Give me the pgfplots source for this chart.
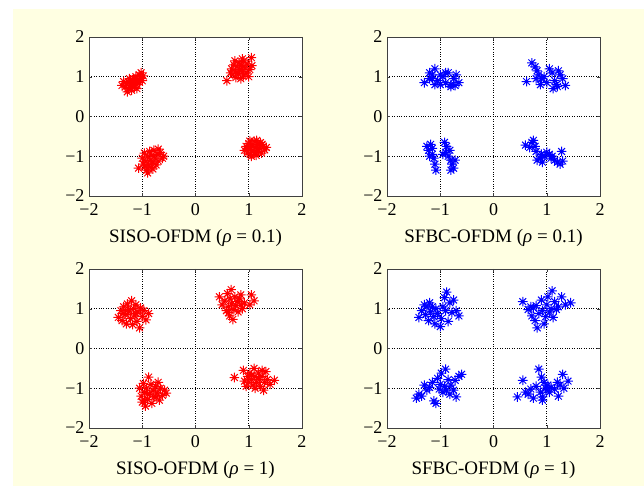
\documentclass[border=0pt]{standalone}
\usepackage{fontspec}
\setmainfont{Liberation Serif}
\usepackage{pgfplots}
\pgfplotsset{compat=1.18}
\usepackage{pgfplotstable}
\definecolor{cream}{RGB}{255,255,226}
\pgfdeclareplotmark{mstar}{%
  \pgfpathmoveto{\pgfqpoint{-\pgfplotmarksize}{0pt}}\pgfpathlineto{\pgfqpoint{\pgfplotmarksize}{0pt}}%
  \pgfpathmoveto{\pgfqpoint{0pt}{-\pgfplotmarksize}}\pgfpathlineto{\pgfqpoint{0pt}{\pgfplotmarksize}}%
  \pgfpathmoveto{\pgfqpoint{-0.707\pgfplotmarksize}{-0.707\pgfplotmarksize}}\pgfpathlineto{\pgfqpoint{0.707\pgfplotmarksize}{0.707\pgfplotmarksize}}%
  \pgfpathmoveto{\pgfqpoint{-0.707\pgfplotmarksize}{0.707\pgfplotmarksize}}\pgfpathlineto{\pgfqpoint{0.707\pgfplotmarksize}{-0.707\pgfplotmarksize}}%
  \pgfusepathqstroke}

\pgfplotstableread{
x y
-1.38 0.78
-1.32 0.74
-1.30 0.82
-1.27 0.70
-1.25 0.86
-1.22 0.78
-1.22 0.92
-1.20 0.66
-1.18 0.84
-1.16 0.95
-1.15 0.74
-1.13 0.88
-1.12 1.00
-1.10 0.80
-1.08 0.93
-1.06 1.05
-1.05 0.86
-1.03 0.97
-1.02 1.10
-1.00 0.90
-1.28 0.62
-1.24 0.95
-1.10 0.70
-0.98 1.02
-1.35 0.88
0.59 0.90
0.68 1.20
0.70 1.05
0.72 1.30
0.75 1.12
0.76 0.98
0.78 1.25
0.80 1.08
0.82 1.35
0.83 1.18
0.85 0.95
0.86 1.28
0.88 1.12
0.90 1.02
0.91 1.40
0.93 1.22
0.95 1.10
0.97 1.32
1.00 1.00
1.02 1.18
1.05 1.48
0.74 1.40
0.88 1.45
1.06 1.28
0.66 1.10
-1.07 -1.30
-1.00 -1.05
-0.98 -1.20
-0.96 -0.92
-0.93 -1.12
-0.92 -1.35
-0.90 -1.00
-0.88 -1.22
-0.86 -0.88
-0.85 -1.10
-0.83 -1.28
-0.82 -0.98
-0.80 -1.15
-0.78 -0.85
-0.76 -1.05
-0.74 -1.22
-0.72 -0.95
-0.70 -1.12
-0.66 -0.90
-0.62 -1.05
-0.90 -1.42
-0.80 -1.32
-0.70 -0.82
-0.95 -1.25
-0.60 -1.00
0.92 -0.85
0.95 -0.75
0.97 -0.92
1.00 -0.68
1.02 -0.82
1.04 -0.95
1.06 -0.72
1.08 -0.86
1.10 -0.62
1.12 -0.78
1.14 -0.98
1.16 -0.70
1.18 -0.88
1.20 -0.80
1.22 -0.66
1.24 -0.92
1.27 -0.76
1.30 -0.84
1.33 -0.78
1.05 -1.00
1.15 -0.60
0.98 -0.80
1.12 -0.90
1.25 -0.70
1.02 -0.62
}\sisoA

\pgfplotstableread{
x y
-1.30 0.85
-1.20 1.10
-1.15 0.95
-1.10 1.20
-1.05 0.90
-1.00 1.05
-1.10 0.80
-1.20 0.95
-0.95 1.00
-0.90 0.85
-0.85 1.10
-0.80 0.80
-0.75 0.95
-0.70 1.05
-0.65 0.85
-0.80 0.75
-0.90 1.10
-1.15 1.05
-1.00 0.80
-0.72 0.78
0.62 0.88
0.72 1.35
0.78 1.25
0.82 1.15
0.85 1.05
0.90 0.95
0.88 0.80
0.95 1.00
1.00 0.85
1.05 1.20
1.10 1.10
1.15 0.90
1.20 0.75
1.25 1.05
1.18 0.80
1.30 0.95
1.22 1.15
0.80 0.95
1.35 0.78
1.12 0.70
-1.25 -0.75
-1.22 -0.85
-1.18 -0.70
-1.15 -0.95
-1.12 -1.05
-1.20 -1.00
-1.10 -1.20
-1.08 -1.35
-1.15 -0.80
-0.92 -0.65
-0.88 -0.75
-0.90 -0.90
-0.85 -1.00
-0.80 -1.10
-0.78 -1.20
-0.75 -1.30
-0.82 -0.85
-0.72 -1.10
-0.95 -0.95
-0.80 -1.35
0.60 -0.72
0.68 -0.78
0.72 -0.65
0.75 -0.60
0.78 -0.75
0.80 -0.88
0.82 -1.10
0.88 -1.05
0.90 -0.95
0.95 -1.00
1.00 -0.90
1.05 -0.95
1.08 -1.05
1.15 -1.10
1.20 -1.15
1.25 -1.20
1.30 -1.12
1.28 -0.88
1.10 -1.00
0.92 -1.15
}\sfbcA

\pgfplotstableread{
x y
-1.45 0.78
-1.40 0.95
-1.38 0.70
-1.35 1.05
-1.32 0.85
-1.30 0.62
-1.28 1.12
-1.25 0.92
-1.22 0.75
-1.20 1.20
-1.18 0.60
-1.16 1.00
-1.14 0.82
-1.12 1.10
-1.10 0.68
-1.08 0.92
-1.05 0.52
-1.03 1.02
-1.00 0.80
-0.97 0.95
-0.93 0.72
-0.88 0.88
-1.26 0.98
-1.12 0.88
-1.36 0.88
0.45 1.30
0.50 1.10
0.55 1.20
0.58 0.95
0.60 1.38
0.62 1.05
0.64 0.82
0.65 1.25
0.67 1.48
0.68 1.12
0.70 0.73
0.72 0.98
0.74 1.30
0.76 1.08
0.78 1.18
0.80 0.92
0.83 1.25
0.86 1.10
0.88 1.00
0.92 1.15
1.02 1.10
1.05 1.35
1.10 1.20
0.62 0.90
0.85 1.35
-1.05 -1.00
-1.02 -1.20
-1.00 -1.35
-0.98 -0.88
-0.96 -1.10
-0.94 -1.45
-0.92 -1.00
-0.90 -1.28
-0.88 -0.72
-0.86 -1.15
-0.84 -0.90
-0.82 -1.38
-0.80 -1.05
-0.78 -1.22
-0.75 -0.95
-0.72 -1.12
-0.70 -0.85
-0.68 -1.30
-0.66 -1.00
-0.62 -1.18
-0.58 -1.05
-0.55 -1.12
-0.96 -1.30
-0.74 -1.22
-0.90 -1.15
0.73 -0.73
0.90 -0.55
0.92 -0.82
0.95 -0.95
0.98 -0.70
1.00 -0.85
1.02 -0.62
1.05 -0.78
1.08 -0.92
1.10 -0.50
1.12 -0.70
1.15 -0.85
1.18 -0.62
1.20 -0.78
1.22 -0.95
1.25 -0.70
1.28 -1.05
1.30 -0.85
1.32 -0.58
1.35 -0.78
1.40 -0.90
1.48 -0.80
1.12 -1.00
1.25 -0.55
1.05 -0.68
}\sisoB

\pgfplotstableread{
x y
-1.40 0.78
-1.35 0.95
-1.30 1.10
-1.28 0.85
-1.25 1.05
-1.22 0.70
-1.20 1.15
-1.18 0.92
-1.15 1.05
-1.12 0.80
-1.10 0.62
-1.08 1.00
-1.05 0.88
-1.00 0.55
-0.98 0.75
-0.95 1.05
-0.92 1.28
-0.90 0.95
-0.88 1.42
-0.85 0.68
-0.82 1.15
-0.78 0.90
-0.75 1.22
-0.70 0.95
-0.65 0.82
0.55 1.18
0.65 0.98
0.70 1.05
0.72 0.82
0.75 1.02
0.78 0.70
0.80 1.08
0.82 0.52
0.85 0.88
0.90 1.22
0.92 0.95
0.95 0.62
0.98 0.80
1.00 1.10
1.02 1.30
1.05 0.92
1.08 1.00
1.10 1.45
1.12 0.78
1.15 1.18
1.18 0.98
1.22 1.05
1.28 1.30
1.35 1.10
1.45 1.15
-1.45 -1.25
-1.40 -1.15
-1.35 -1.20
-1.30 -0.92
-1.25 -1.05
-1.20 -0.98
-1.15 -0.85
-1.12 -1.32
-1.08 -1.38
-1.05 -0.75
-1.02 -1.02
-1.00 -0.90
-0.98 -0.62
-0.95 -1.10
-0.92 -0.95
-0.90 -0.52
-0.88 -1.05
-0.85 -0.78
-0.82 -1.15
-0.80 -0.92
-0.75 -1.05
-0.72 -0.80
-0.70 -1.22
-0.65 -0.70
-0.60 -0.65
0.45 -1.22
0.55 -0.80
0.60 -1.10
0.65 -1.15
0.70 -1.02
0.75 -1.25
0.80 -0.95
0.85 -0.52
0.88 -1.10
0.90 -0.72
0.92 -1.22
0.95 -0.85
0.98 -1.00
1.00 -1.05
1.02 -0.92
1.05 -1.10
1.08 -0.98
1.15 -1.02
1.20 -0.85
1.22 -1.20
1.25 -0.92
1.30 -0.65
1.32 -1.00
1.40 -0.82
0.92 -1.30
}\sfbcB

\pgfplotsset{
  panel/.style={
    scale only axis, width=213pt, height=159pt,
    xmin=-2, xmax=2, ymin=-2, ymax=2,
    xtick={-2,-1,0,1,2}, ytick={-2,-1,0,1,2},
    xticklabels={−2,−1,0,1,2}, yticklabels={−2,−1,0,1,2},
    tick align=inside, major tick length=3pt,
    grid=major, major grid style={black, dotted, line width=0.7pt},
    axis line style={black!75, line width=0.6pt},
    tick style={black!75},
    ticklabel style={font=\fontsize{18}{20}\selectfont},
    xticklabel style={yshift=-4pt},
    yticklabel style={xshift=-1pt},
    xlabel style={font=\fontsize{19}{22}\selectfont, yshift=-7pt},
    axis background/.style={fill=white},
    anchor=south west,
  },
  pts/.style={only marks, mark=mstar, mark size=4.8pt, line width=1pt},
}

\begin{document}
\begin{tikzpicture}[x=1pt,y=1pt]
\useasboundingbox (0,0) rectangle (644,486);
\fill[cream] (13,0) rectangle (644,477);
\begin{axis}[panel, at={(89pt,290pt)}, xlabel={SISO-OFDM (\textit{ρ} = 0.1)}]
\addplot[pts, color=red] table {\sisoA};
\end{axis}
\begin{axis}[panel, at={(387pt,290pt)}, xlabel={SFBC-OFDM (\textit{ρ} = 0.1)}]
\addplot[pts, color=blue] table {\sfbcA};
\end{axis}
\begin{axis}[panel, at={(89pt,58pt)}, xlabel={SISO-OFDM (\textit{ρ} = 1)}]
\addplot[pts, color=red] table {\sisoB};
\end{axis}
\begin{axis}[panel, at={(387pt,58pt)}, xlabel={SFBC-OFDM (\textit{ρ} = 1)}]
\addplot[pts, color=blue] table {\sfbcB};
\end{axis}
\end{tikzpicture}
\end{document}
